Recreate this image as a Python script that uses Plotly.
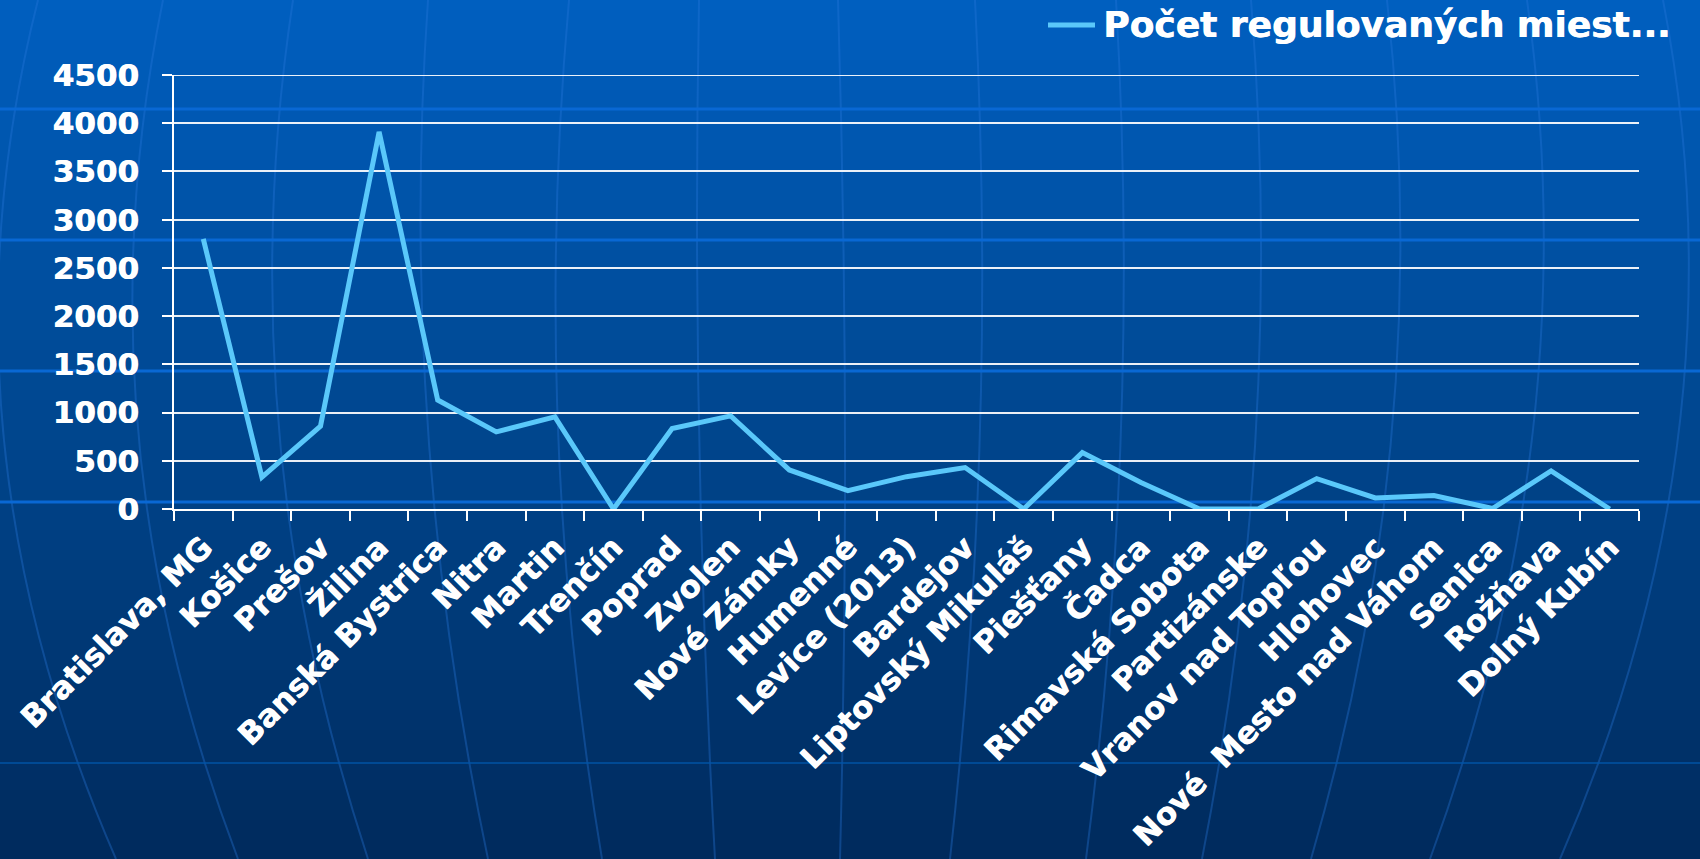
import plotly.graph_objects as go

# Parking data per town
categories = [
    "Bratislava, MG", "Košice", "Prešov", "Žilina", "Banská Bystrica",
    "Nitra", "Martin", "Trenčín", "Poprad", "Zvolen", "Nové Zámky",
    "Humenné", "Levice (2013)", "Bardejov", "Liptovský Mikuláš",
    "Piešťany", "Čadca", "Rimavská Sobota", "Partizánske",
    "Vranov nad Topľou", "Hlohovec", "Nové\u00a0 Mesto nad Váhom",
    "Senica", "Rožňava", "Dolný Kubín",
]
values = [2800, 330, 860, 3910, 1130, 800, 955, 0, 835, 965, 405, 190,
          335, 430, 0, 585, 275, 0, 0, 315, 115, 140, 5, 395, 0]
y_ticks = [0, 500, 1000, 1500, 2000, 2500, 3000, 3500, 4000, 4500]
series_name = "Počet regulovaných miest..."

W, H = 1700, 859
ML, MR, MT, MB = 174, 61, 75, 350
PW = W - ML - MR
PH = H - MT - MB

LINE_COLOR = "#5AC8FA"
GRID_COLOR = "rgba(255,255,255,0.92)"
FONT = "DejaVu Sans"
HEAVY = "0.7px 0 0 white"  # thickens the bold face slightly


def fx(x):
    return (x - ML) / PW


def fy(y):
    return (H - MB - y) / PH


shapes = []

# vertical gradient of the slide background
stops = [(0, (0, 95, 192)), (430, (0, 70, 142)), (859, (0, 42, 92))]


def color_at(y):
    for (y0, c0), (y1, c1) in zip(stops[:-1], stops[1:]):
        if y0 <= y <= y1:
            t = (y - y0) / (y1 - y0)
            c = [round(a + (b - a) * t) for a, b in zip(c0, c1)]
            return "rgb(%d,%d,%d)" % tuple(c)
    return "rgb(%d,%d,%d)" % stops[-1][1]


band = 10
for y0 in range(0, H, band):
    shapes.append(dict(
        type="rect", xref="paper", yref="paper", layer="below",
        x0=fx(0), x1=fx(W), y0=fy(min(y0 + band + 1, H + 2)), y1=fy(y0),
        fillcolor=color_at(y0 + band / 2), line=dict(width=0),
    ))

# globe meridians (top, middle, bottom points)
meridians = [
    ((38, 0), (3, 430), (116, 859)),
    ((163, 0), (138, 430), (238, 859)),
    ((293, 0), (279, 430), (368, 859)),
    ((428, 0), (428, 430), (488, 859)),
    ((569, 0), (558, 430), (602, 859)),
    ((699, 0), (699, 430), (715, 859)),
    ((838, 0), (845, 430), (840, 859)),
    ((975, 0), (980, 430), (950, 859)),
    ((1116, 0), (1121, 430), (1086, 859)),
    ((1251, 0), (1256, 430), (1202, 859)),
    ((1387, 0), (1392, 430), (1311, 859)),
    ((1527, 0), (1533, 430), (1430, 859)),
    ((1663, 0), (1679, 430), (1560, 859)),
]
for p0, pm, p1 in meridians:
    cx = 2 * pm[0] - (p0[0] + p1[0]) / 2
    cy = 2 * pm[1] - (p0[1] + p1[1]) / 2
    path = "M %f,%f Q %f,%f %f,%f" % (fx(p0[0]), fy(p0[1]), fx(cx), fy(cy),
                                      fx(p1[0]), fy(p1[1]))
    shapes.append(dict(type="path", xref="paper", yref="paper", layer="below",
                       path=path, line=dict(color="rgba(40,120,220,0.35)", width=2)))

# globe parallels
for yy in [109, 240, 371, 502]:
    shapes.append(dict(type="line", xref="paper", yref="paper", layer="below",
                       x0=fx(0), x1=fx(W), y0=fy(yy), y1=fy(yy),
                       line=dict(color="#0968D4", width=3)))
shapes.append(dict(type="line", xref="paper", yref="paper", layer="below",
                   x0=fx(0), x1=fx(W), y0=fy(763), y1=fy(763),
                   line=dict(color="rgba(0,85,170,0.7)", width=2)))

# top gridline (plotly drops the one sitting on the plot edge)
shapes.append(dict(type="line", xref="paper", yref="y", layer="below",
                   x0=0, x1=1, y0=y_ticks[-1], y1=y_ticks[-1],
                   line=dict(color=GRID_COLOR, width=2)))

# legend sample line
shapes.append(dict(type="line", xref="paper", yref="paper", layer="above",
                   x0=fx(1048), x1=fx(1095), y0=fy(25), y1=fy(25),
                   line=dict(color=LINE_COLOR, width=5)))

fig = go.Figure()
fig.add_trace(go.Scatter(
    x=categories, y=values, mode="lines", name=series_name,
    line=dict(color=LINE_COLOR, width=5), cliponaxis=False,
    showlegend=False,
))

fig.update_layout(
    width=W, height=H,
    margin=dict(l=ML, r=MR, t=MT, b=MB, autoexpand=False),
    paper_bgcolor="rgb(0,42,92)",
    plot_bgcolor="rgba(0,0,0,0)",
    shapes=shapes,
    font=dict(family=FONT, color="white"),
    annotations=[dict(
        text=series_name, xref="paper", yref="paper",
        x=fx(1101), y=fy(25), xanchor="left", yanchor="middle",
        showarrow=False,
        font=dict(family=FONT, size=36, color="white", weight="bold",
                  shadow=HEAVY),
    )],
    xaxis=dict(
        type="category", range=[-0.5, len(categories) - 0.5],
        automargin=False,
        tickson="boundaries", ticks="outside", ticklen=10, tickwidth=2,
        tickcolor="white", showline=True, linecolor="white", linewidth=2,
        showgrid=False, tickangle=-45, ticklabelstandoff=6,
        tickfont=dict(family=FONT, size=31, color="white", weight="bold",
                      shadow=HEAVY),
    ),
    yaxis=dict(
        range=[0, 4500], tickvals=y_ticks, ticks="outside", ticklen=10,
        automargin=False,
        tickwidth=2, tickcolor="white", showline=True, linecolor="white",
        linewidth=2, showgrid=True, gridcolor=GRID_COLOR,
        gridwidth=2, zeroline=False, ticklabelstandoff=17,
        tickfont=dict(family=FONT, size=31, color="white", weight="bold",
                      shadow=HEAVY),
    ),
)

fig.write_html("out.html")
